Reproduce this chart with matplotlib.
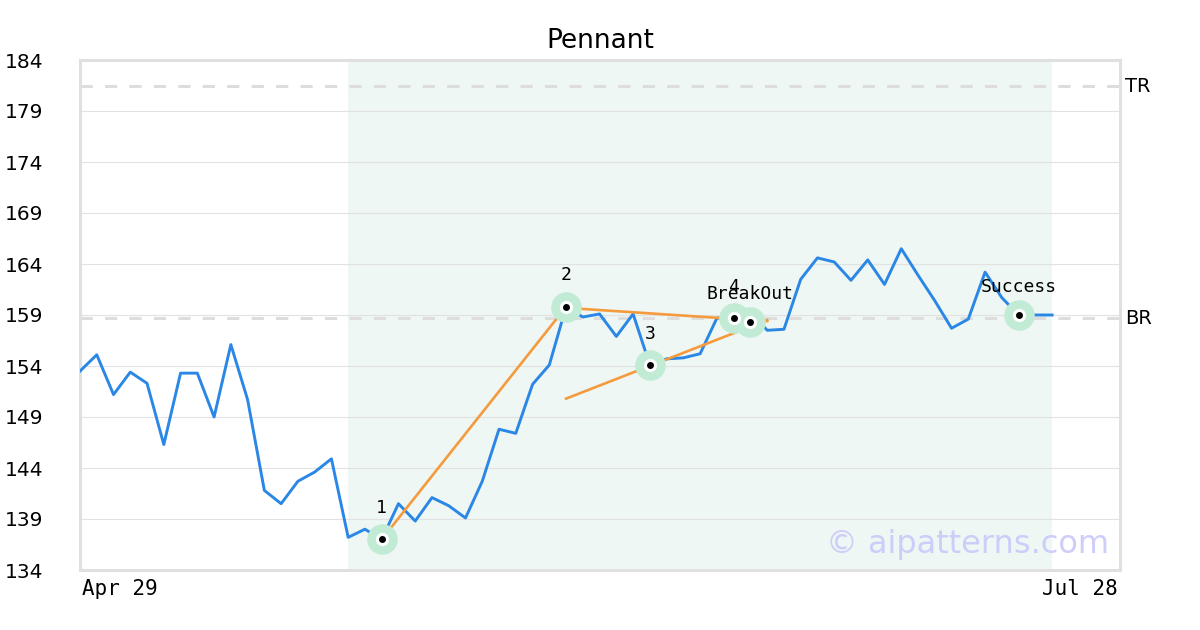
import numpy as np
import matplotlib.pyplot as plt

# --- data ---
price = [153.5, 155.1, 151.2, 153.4, 152.3, 146.3, 153.3, 153.3, 149.0, 156.1,
         150.7, 141.8, 140.5, 142.7, 143.6, 144.9, 137.2, 138.0, 137.0, 140.5,
         138.8, 141.1, 140.3, 139.1, 142.7, 147.8, 147.4, 152.2, 154.1, 159.8,
         158.8, 159.1, 156.9, 159.1, 154.1, 154.7, 154.8, 155.2, 158.7, 158.7,
         159.3, 157.5, 157.6, 162.5, 164.6, 164.2, 162.4, 164.4, 162.0, 165.5,
         162.9, 160.4, 157.7, 158.6, 163.2, 160.7, 159.0, 159.0, 159.0]

tr_level = 181.45
br_level = 158.7

# pattern points: (index, value, label)
pt_idx = [18, 29, 34, 39]
pt_val = [137.0, 159.8, 154.1, 158.7]
pt_lbl = ['1', '2', '3', '4']

breakout_idx, breakout_val = 40, 158.3
success_idx, success_val = 56, 159.0

# trend lines: (x0, y0, x1, y1)
lines = [(18, 137.0, 29, 159.8),
         (29, 159.7, 41, 158.4),
         (29, 150.8, 41, 158.5)]

shade_start, shade_end = 16, 58
yticks = np.arange(134, 185, 5)
x_labels = ['Apr 29', 'Jul 28']

# --- plot ---
fig = plt.figure(figsize=(12, 6.3), dpi=100)
ax = fig.add_axes([80/1200, 60/630, 1040/1200, 510/630])

x = np.arange(len(price))
ax.axvspan(shade_start, shade_end, color='#eef7f3', zorder=0, lw=0)

for yv in yticks:
    ax.axhline(yv, color='#e2e2e2', lw=0.8, zorder=1)
for lvl in (tr_level, br_level):
    ax.axhline(lvl, color='#dddddd', lw=2.2, ls=(0, (4, 4)), zorder=1)

ax.plot(x, price, color='#2b87e6', lw=2.1, zorder=3)

for x0, y0, x1, y1 in lines:
    ax.plot([x0, x1], [y0, y1], color='#f59a3d', lw=1.9, zorder=4)

def marker(xi, yi):
    ax.plot(xi, yi, 'o', ms=22, color='#c2ebd6', mec='none', zorder=5)
    ax.plot(xi, yi, 'o', ms=9.5, color='white', mec='none', zorder=6)
    ax.plot(xi, yi, 'o', ms=5, color='black', mec='none', zorder=7)

for xi, yi, lb in zip(pt_idx, pt_val, pt_lbl):
    marker(xi, yi)
    ax.text(xi, yi + 2.2, lb, ha='center', va='bottom', family='DejaVu Sans Mono',
            fontsize=13, zorder=8)

marker(breakout_idx, breakout_val)
ax.text(breakout_idx, breakout_val + 1.9, 'BreakOut', ha='center', va='bottom',
        family='DejaVu Sans Mono', fontsize=13, zorder=8)
marker(success_idx, success_val)
ax.text(success_idx, success_val + 1.9, 'Success', ha='center', va='bottom',
        family='DejaVu Sans Mono', fontsize=13, zorder=8)

ax.text(1.005, (tr_level - 134) / 50, 'TR', transform=ax.transAxes,
        ha='left', va='center', fontsize=14)
ax.text(1.005, (br_level - 134) / 50, 'BR', transform=ax.transAxes,
        ha='left', va='center', fontsize=14)

ax.text(0.99, 0.02, '\u00a9 aipatterns.com', transform=ax.transAxes,
        ha='right', va='bottom', fontsize=23, color='#cdcdfa', zorder=9)

ax.set_xlim(0, 62.05)
ax.set_ylim(134, 184)
ax.set_yticks(yticks)
ax.set_yticklabels([str(v) for v in yticks], fontsize=14.5)
ax.tick_params(axis='y', length=0, pad=54)
for lb in ax.get_yticklabels():
    lb.set_horizontalalignment('left')
ax.set_xticks([])

ax.text(0.002, -0.018, x_labels[0], transform=ax.transAxes, ha='left', va='top',
        family='DejaVu Sans Mono', fontsize=15)
ax.text(0.998, -0.018, x_labels[1], transform=ax.transAxes, ha='right', va='top',
        family='DejaVu Sans Mono', fontsize=15)

for sp in ax.spines.values():
    sp.set_color('#e0e0e0')
    sp.set_linewidth(2.2)

ax.set_title('Pennant', fontsize=19, pad=9)

fig.savefig('out.png', dpi=100)
